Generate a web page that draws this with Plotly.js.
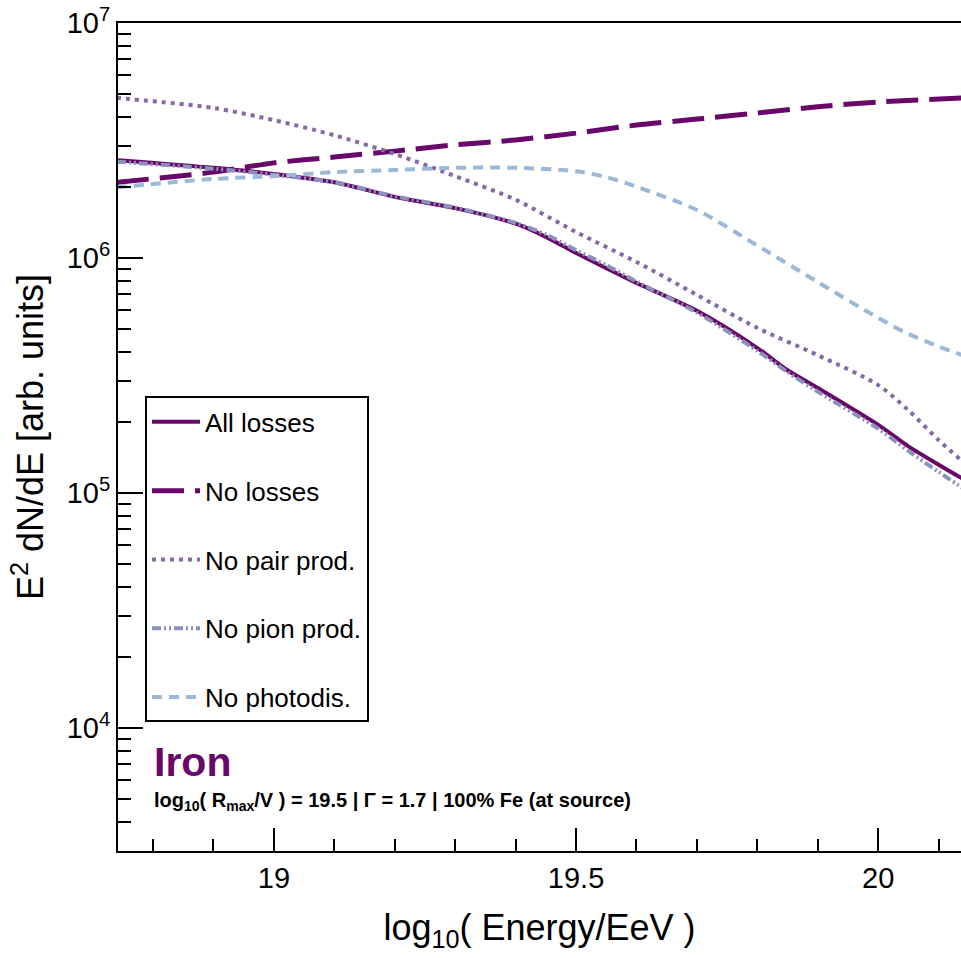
<!DOCTYPE html>
<html>
<head>
<meta charset="utf-8">
<script src="https://cdn.plot.ly/plotly-3.0.1.min.js"></script>
<style>html,body{margin:0;padding:0;background:#fff;}#chart{width:961px;height:958px;}</style>
</head>
<body>
<div id="chart"></div>
<script>
// log10(Energy/EeV) sample points
const xAll = [18.74, 18.9, 19.0, 19.1, 19.2, 19.3, 19.4, 19.45, 19.5, 19.55, 19.6, 19.7, 19.8, 19.85, 19.9, 20.0, 20.05, 20.1, 20.14];
const yAllLosses = [2.61e6, 2.42e6, 2.28e6, 2.10e6, 1.82e6, 1.63e6, 1.40e6, 1.23e6, 1.05e6, 9.06e5, 7.83e5, 5.96e5, 4.14e5, 3.33e5, 2.80e5, 1.95e5, 1.58e5, 1.32e5, 1.15e5];
const yNoPion = [2.57e6, 2.40e6, 2.26e6, 2.10e6, 1.83e6, 1.64e6, 1.41e6, 1.26e6, 1.08e6, 9.33e5, 7.94e5, 5.86e5, 4.03e5, 3.27e5, 2.70e5, 1.88e5, 1.51e5, 1.23e5, 1.05e5];

const xNoLoss = [18.74, 18.9, 19.0, 19.1, 19.2, 19.3, 19.4, 19.5, 19.6, 19.7, 19.8, 19.9, 20.0, 20.14];
const yNoLosses = [2.10e6, 2.32e6, 2.54e6, 2.69e6, 2.85e6, 3.03e6, 3.18e6, 3.40e6, 3.68e6, 3.90e6, 4.14e6, 4.40e6, 4.61e6, 4.80e6];

const xPair = [18.74, 18.9, 19.0, 19.1, 19.2, 19.3, 19.4, 19.5, 19.6, 19.7, 19.8, 19.9, 20.0, 20.05, 20.1, 20.14];
const yNoPair = [4.80e6, 4.35e6, 3.86e6, 3.33e6, 2.77e6, 2.23e6, 1.77e6, 1.29e6, 9.62e5, 6.97e5, 5.04e5, 3.86e5, 2.88e5, 2.25e5, 1.68e5, 1.36e5];

const xPhoto = [18.74, 18.9, 19.0, 19.1, 19.2, 19.3, 19.4, 19.5, 19.55, 19.6, 19.7, 19.8, 19.9, 20.0, 20.05, 20.1, 20.14];
const yNoPhoto = [2.00e6, 2.17e6, 2.23e6, 2.32e6, 2.37e6, 2.42e6, 2.42e6, 2.34e6, 2.21e6, 2.01e6, 1.60e6, 1.13e6, 7.90e5, 5.56e5, 4.75e5, 4.20e5, 3.86e5];

const seriesNames = ["All losses", "No losses", "No pair prod.", "No pion prod.", "No photodis."];
const yMajorVals = [1e4, 1e5, 1e6, 1e7];
const yMajorText = ["10<sup>4</sup>", "10<sup>5</sup>", "10<sup>6</sup>", "10<sup>7</sup>"];

const FONT = "Liberation Sans, Arial, Helvetica, sans-serif";
const dark = "#680868";
const pairC = "#8768a8";
const pionC = "#8c90bd";
const photoC = "#9bb8d6";

const yMinor = [];
for (let e = 3; e <= 6; e++) for (let d = 2; d <= 9; d++) yMinor.push(d * Math.pow(10, e));

function tr(x, y, name, color, width, dash, g) {
  return {x: x, y: y, name: name, type: "scatter", mode: "lines",
    line: {color: color, width: width, dash: dash, shape: "spline", smoothing: 0.8},
    legendgroup: g, hoverinfo: "skip"};
}

const data = [
  tr(xAll, yAllLosses, seriesNames[0], dark, 4, "solid", "a"),
  tr(xNoLoss, yNoLosses, seriesNames[1], dark, 5, "32px,11px", "b"),
  tr(xPair, yNoPair, seriesNames[2], pairC, 4, "4px,5px", "c"),
  tr(xAll, yNoPion, seriesNames[3], pionC, 4, "9px,3px,2px,3px,2px,3px", "d"),
  tr(xPhoto, yNoPhoto, seriesNames[4], photoC, 4, "10px,7px", "e")
];

const layout = {
  width: 961, height: 958,
  margin: {l: 118, r: 0, t: 23, b: 107, pad: 0},
  paper_bgcolor: "#fff", plot_bgcolor: "#fff",
  font: {family: FONT, color: "#000"},
  showlegend: true,
  legend: {
    x: 0.032, y: 0.549, xanchor: "left", yanchor: "top",
    bgcolor: "#fff", bordercolor: "#000", borderwidth: 2,
    font: {family: FONT, size: 26, color: "#000"},
    itemwidth: 48,
    traceorder: "grouped", tracegroupgap: 32
  },
  xaxis: {
    range: [18.742, 20.137], showgrid: false, zeroline: false,
    showline: true, linecolor: "#000", linewidth: 2, mirror: true,
    ticks: "inside", ticklen: 23, tickwidth: 2, tickcolor: "#000",
    tick0: 19, dtick: 0.5,
    tickfont: {family: FONT, size: 29},
    minor: {ticks: "inside", ticklen: 12, tickwidth: 2, tickcolor: "#000", dtick: 0.1, showgrid: false},
    title: {text: "log<sub>10</sub>( Energy/EeV )", font: {family: FONT, size: 36}, standoff: 22}
  },
  yaxis: {
    type: "log", range: [3.477, 7.0], showgrid: false, zeroline: false,
    showline: true, linecolor: "#000", linewidth: 2,
    ticks: "inside", ticklen: 25, tickwidth: 2, tickcolor: "#000",
    tickmode: "array", tickvals: yMajorVals, ticktext: yMajorText,
    tickfont: {family: FONT, size: 29},
    minor: {ticks: "inside", ticklen: 13, tickwidth: 2, tickcolor: "#000", tickmode: "array", tickvals: yMinor, showgrid: false},
    title: {text: "E<sup>2</sup> dN/dE [arb. units]", font: {family: FONT, size: 36}, standoff: 12}
  },
  annotations: [
    {text: "<b>Iron</b>", xref: "paper", yref: "paper", x: 0.04, y: 0.108,
     xanchor: "left", yanchor: "middle", showarrow: false,
     font: {family: FONT, size: 41, color: dark}},
    {text: "<b>log<sub>10</sub>( R<sub>max</sub>/V ) = 19.5 | Γ = 1.7 | 100% Fe (at source)</b>",
     xref: "paper", yref: "paper", x: 0.04, y: 0.06,
     xanchor: "left", yanchor: "middle", showarrow: false,
     font: {family: FONT, size: 20, color: "#000"}}
  ]
};

Plotly.newPlot("chart", data, layout, {displayModeBar: false, staticPlot: true});
</script>
</body>
</html>
